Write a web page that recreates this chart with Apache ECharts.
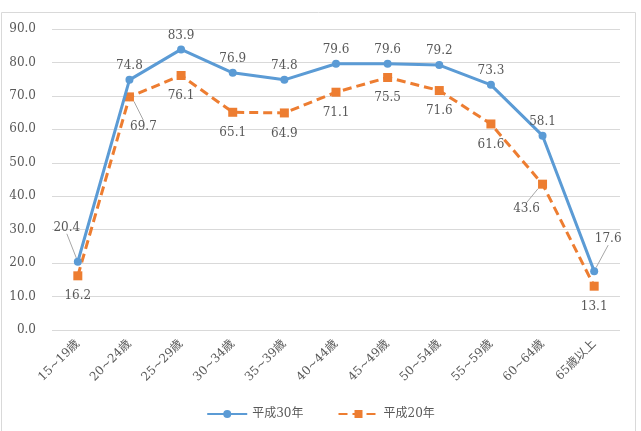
<!DOCTYPE html>
<html lang="ja">
<head>
<meta charset="UTF-8">
<title>年齢階級別</title>
<style>
  html, body { margin: 0; padding: 0; background: #fff; }
  #app { width: 641px; height: 431px; }
</style>
<script src="https://cdn.jsdelivr.net/npm/echarts@6/dist/echarts.min.js"></script>
</head>
<body>
<div id="app"></div>
<script>
  // 年齢階級
  var categories = ['15~19歳', '20~24歳', '25~29歳', '30~34歳', '35~39歳', '40~44歳',
    '45~49歳', '50~54歳', '55~59歳', '60~64歳', '65歳以上']
  var h30 = [20.4, 74.8, 83.9, 76.9, 74.8, 79.6, 79.6, 79.2, 73.3, 58.1, 17.6]
  var h20 = [16.2, 69.7, 76.1, 65.1, 64.9, 71.1, 75.5, 71.6, 61.6, 43.6, 13.1]
  var yTicks = [0, 10, 20, 30, 40, 50, 60, 70, 80, 90]

  var textColor = '#595959'
  var font = 'DejaVu Serif, Noto Sans CJK JP, serif'

  // ラベルを引き出し線付きでずらす点 [dx, dy]
  var moveH30 = { 0: [-11, -20], 10: [14, -18] }
  var moveH20 = { 1: [14, 9], 9: [-16, 4] }

  function makeData(values, moves) {
    return values.map(function (v, i) {
      var item = { value: v }
      if (moves[i]) item.labelLine = { show: true }
      return item
    })
  }

  var mychart = echarts.init(document.getElementById('app'))
  var option = {
    animation: false,
    graphic: [{
      type: 'rect',
      shape: { x: 1.5, y: 12.5, width: 634, height: 430 },
      style: { fill: 'none', stroke: '#d9d9d9', lineWidth: 1 },
      silent: true
    }],
    grid: { left: 52, right: 21, top: 29, bottom: 101 },
    legend: {
      bottom: 6,
      left: 'center',
      itemWidth: 40,
      itemHeight: 10,
      itemGap: 34,
      textStyle: { color: textColor, fontFamily: font, fontSize: 12 },
      data: ['平成30年', '平成20年']
    },
    xAxis: {
      type: 'category',
      data: categories,
      boundaryGap: true,
      axisLine: { show: false },
      axisTick: { show: false },
      axisLabel: { rotate: 45, margin: 12, color: textColor, fontFamily: font, fontSize: 12 }
    },
    yAxis: {
      type: 'value',
      min: yTicks[0],
      max: yTicks[yTicks.length - 1],
      interval: 10,
      axisLine: { show: false },
      axisTick: { show: false },
      splitLine: { lineStyle: { color: '#d9d9d9', width: 1 } },
      axisLabel: {
        margin: 16, color: textColor, fontFamily: font, fontSize: 12,
        formatter: function (v) { return v.toFixed(1) }
      }
    },
    series: [{
      name: '平成30年',
      type: 'line',
      data: makeData(h30, moveH30),
      symbol: 'circle',
      symbolSize: 8,
      z: 3,
      itemStyle: { color: '#5b9bd5' },
      lineStyle: { color: '#5b9bd5', width: 3 },
      label: {
        show: true, position: 'top', distance: 4, color: textColor, fontFamily: font, fontSize: 12,
        formatter: function (p) { return p.value.toFixed(1) }
      },
      labelLine: { show: false, lineStyle: { color: '#a6a6a6', width: 1 } },
      labelLayout: function (p) {
        var m = moveH30[p.dataIndex]
        return m ? { dx: m[0], dy: m[1] } : {}
      }
    }, {
      name: '平成20年',
      type: 'line',
      data: makeData(h20, moveH20),
      symbol: 'rect',
      symbolSize: 9,
      z: 2,
      itemStyle: { color: '#ed7d31' },
      lineStyle: { color: '#ed7d31', width: 3, type: [9, 5] },
      label: {
        show: true, position: 'bottom', distance: 10, color: textColor, fontFamily: font, fontSize: 12,
        formatter: function (p) { return p.value.toFixed(1) }
      },
      labelLine: { show: false, lineStyle: { color: '#a6a6a6', width: 1 } },
      labelLayout: function (p) {
        var m = moveH20[p.dataIndex]
        return m ? { dx: m[0], dy: m[1] } : {}
      }
    }]
  }
  mychart.setOption(option)
</script>
</body>
</html>
